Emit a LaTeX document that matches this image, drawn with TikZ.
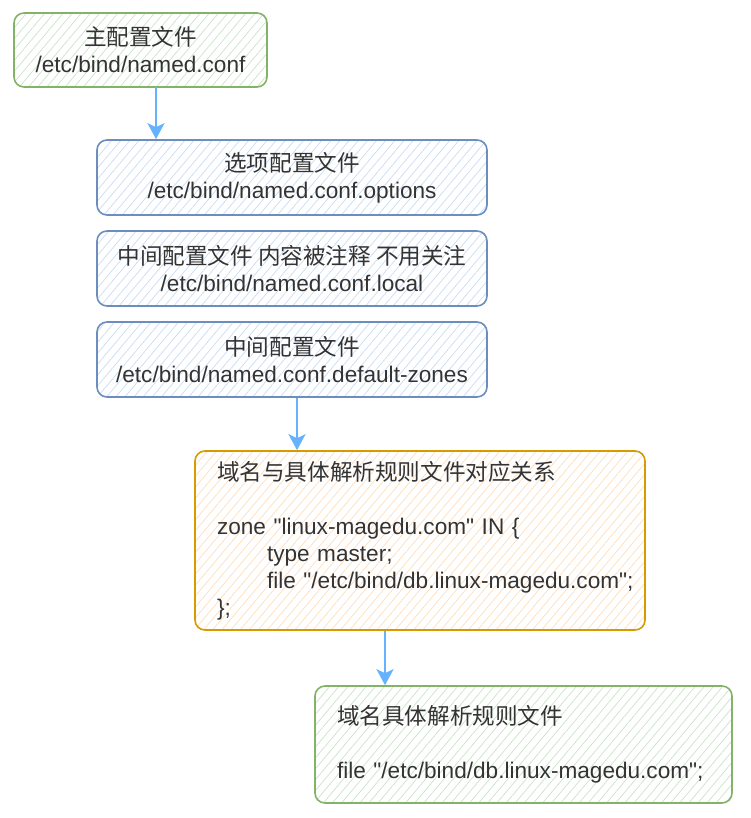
\documentclass[tikz,border=0pt]{standalone}
\usepackage{fontspec}
\setmainfont{Liberation Sans}[Ligatures=TeXOff]
\newfontfamily\cjk{Noto Sans CJK SC}
\usetikzlibrary{patterns.meta,arrows.meta}
\definecolor{txt}{HTML}{333333}
\definecolor{gstroke}{HTML}{82B366}
\definecolor{gfill}{HTML}{C9E3C7}
\definecolor{bstroke}{HTML}{6C8EBF}
\definecolor{bfill}{HTML}{C8DCF5}
\definecolor{ostroke}{HTML}{D79B00}
\definecolor{ofill}{HTML}{FFDDBB}
\definecolor{arr}{HTML}{66B2FF}
\tikzset{
  box/.style={rounded corners=10pt, line width=1.6pt, text=txt, inner sep=0pt,
    font=\fontsize{22.6}{27}\selectfont},
  greenbox/.style={box, draw=gstroke, pattern={Lines[angle=50,distance=7pt,line width=0.7pt]}, pattern color=gfill},
  bluebox/.style={box, draw=bstroke, pattern={Lines[angle=50,distance=7pt,line width=0.7pt]}, pattern color=bfill},
  orangebox/.style={box, draw=ostroke, pattern={Lines[angle=50,distance=7pt,line width=0.7pt]}, pattern color=ofill},
  flow/.style={draw=arr, line width=2.6pt, -{Stealth[length=16pt,width=17pt,inset=4pt]}}
}
\begin{document}
\begin{tikzpicture}[x=1pt,y=-1pt]
\useasboundingbox (0,0) rectangle (750,818);
\node[greenbox, minimum width=253pt, minimum height=74pt, align=center] (b1) at (140.5,50)
  {{\cjk 主配置文件}\\/etc/bind/named.conf};
\node[bluebox, minimum width=390pt, minimum height=75pt, align=center] (b2) at (292,177.5)
  {{\cjk 选项配置文件}\\/etc/bind/named.conf.options};
\node[bluebox, minimum width=390pt, minimum height=75pt, align=center] (b3) at (292,268.5)
  {{\cjk 中间配置文件 内容被注释 不用关注}\\/etc/bind/named.conf.local};
\node[bluebox, minimum width=390pt, minimum height=75pt, align=center] (b4) at (292,359.5)
  {{\cjk 中间配置文件}\\/etc/bind/named.conf.default-zones};
\node[orangebox, minimum width=450pt, minimum height=179pt, text width=406pt, align=left] (b5) at (420,540.5)
  {\mbox{\cjk 域名与具体解析规则文件对应关系}\\
   \mbox{}\\
   \mbox{zone "linux-magedu.com" IN \{}\\
   \mbox{\hspace*{50pt}type master;}\\
   \mbox{\hspace*{50pt}file "/etc/bind/db.linux-magedu.com";}\\
   \mbox{\};}};
\node[greenbox, minimum width=417pt, minimum height=117pt, text width=373pt, align=left] (b6) at (523.5,744.5)
  {\mbox{\cjk 域名具体解析规则文件}\\
   \mbox{}\\
   \mbox{file "/etc/bind/db.linux-magedu.com";}};
\draw[flow] ([xshift=15.5pt]b1.south) -- ([xshift=15.5pt]b1.south |- b2.north);
\draw[flow] ([xshift=5pt]b4.south) -- ([xshift=5pt]b4.south |- b5.north);
\draw[flow] ([xshift=-35pt]b5.south) -- ([xshift=-35pt]b5.south |- b6.north);
\end{tikzpicture}
\end{document}
